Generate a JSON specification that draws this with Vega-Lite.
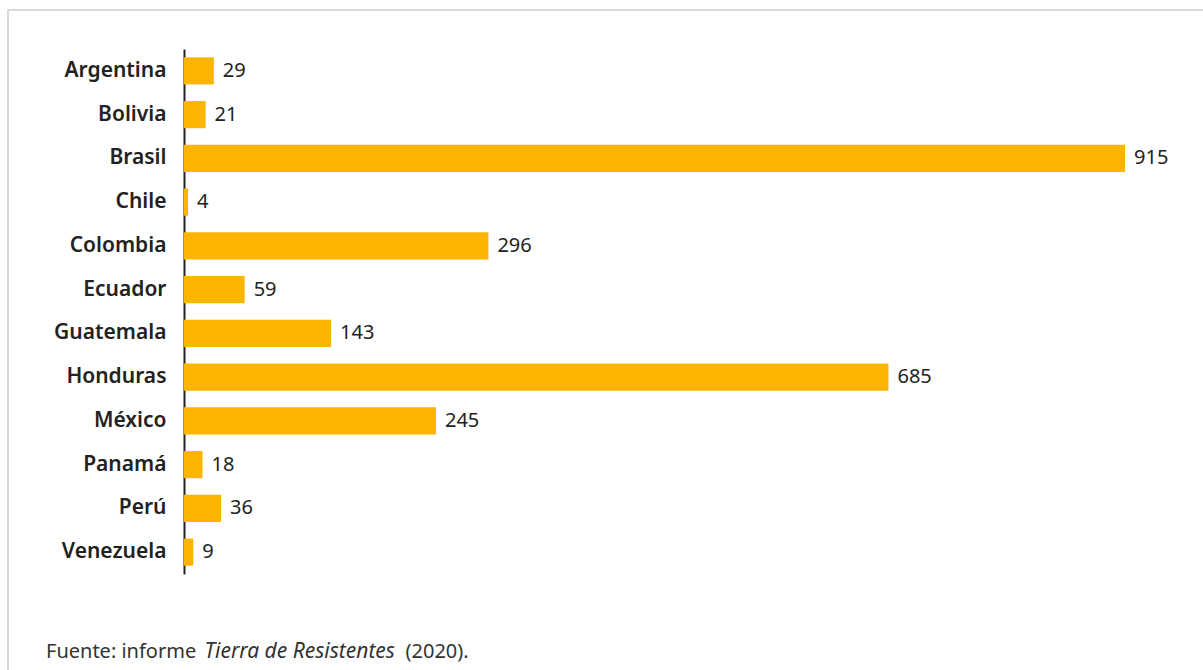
{
  "$schema": "https://vega.github.io/schema/vega-lite/v6.json",
  "autosize": {"type": "none"},
  "padding": {"left": 8, "top": 10, "right": 0, "bottom": 0},
  "width": 1200,
  "height": 665,
  "background": "white",
  "title": {
    "text": "Fuente: informe",
    "orient": "top",
    "anchor": "start",
    "frame": "group",
    "offset": 0,
    "baseline": "alphabetic",
    "dx": 38,
    "dy": 668,
    "font": "Noto Sans",
    "fontSize": 20,
    "fontWeight": "normal",
    "color": "#333333"
  },
  "data": {
    "values": [
      {"pais": "Argentina", "valor": 29},
      {"pais": "Bolivia", "valor": 21},
      {"pais": "Brasil", "valor": 915},
      {"pais": "Chile", "valor": 4},
      {"pais": "Colombia", "valor": 296},
      {"pais": "Ecuador", "valor": 59},
      {"pais": "Guatemala", "valor": 143},
      {"pais": "Honduras", "valor": 685},
      {"pais": "México", "valor": 245},
      {"pais": "Panamá", "valor": 18},
      {"pais": "Perú", "valor": 36},
      {"pais": "Venezuela", "valor": 9}
    ]
  },
  "encoding": {
    "y": {
      "field": "pais",
      "type": "nominal",
      "sort": null,
      "scale": {"range": [39, 564], "paddingInner": 0.38, "paddingOuter": 0.19},
      "axis": {
        "offset": -176,
        "domain": true,
        "domainColor": "#222222",
        "domainWidth": 2,
        "ticks": false,
        "grid": false,
        "labelFont": "Noto Sans",
        "labelFontSize": 21,
        "labelFontWeight": 600,
        "labelColor": "#222222",
        "labelPadding": 18,
        "title": "(2020).",
        "titleAngle": 0,
        "titleX": 221,
        "titleY": 647,
        "titleAlign": "left",
        "titleBaseline": "alphabetic",
        "titleFont": "Noto Sans",
        "titleFontSize": 20,
        "titleFontWeight": "normal",
        "titleColor": "#333333"
      }
    },
    "x": {
      "field": "valor",
      "type": "quantitative",
      "scale": {"domain": [0, 915], "range": [176, 1117], "nice": false, "zero": true},
      "axis": {
        "domain": false,
        "ticks": false,
        "labels": false,
        "grid": false,
        "title": "Tierra de Resistentes",
        "titleX": 196,
        "titleY": -18,
        "titleAlign": "left",
        "titleAnchor": "start",
        "titleBaseline": "alphabetic",
        "titleFont": "Noto Sans",
        "titleFontSize": 21,
        "titleFontStyle": "italic",
        "titleFontWeight": "normal",
        "titleColor": "#333333"
      }
    }
  },
  "layer": [
    {"mark": {"type": "bar", "color": "#fbb400"}},
    {
      "mark": {"type": "text", "align": "left", "baseline": "middle", "dx": 9, "font": "Noto Sans", "fontSize": 20, "color": "#222222"},
      "encoding": {"text": {"field": "valor", "type": "quantitative"}}
    }
  ],
  "config": {
    "view": {"stroke": "#d9d9d9", "strokeWidth": 2}
  }
}
